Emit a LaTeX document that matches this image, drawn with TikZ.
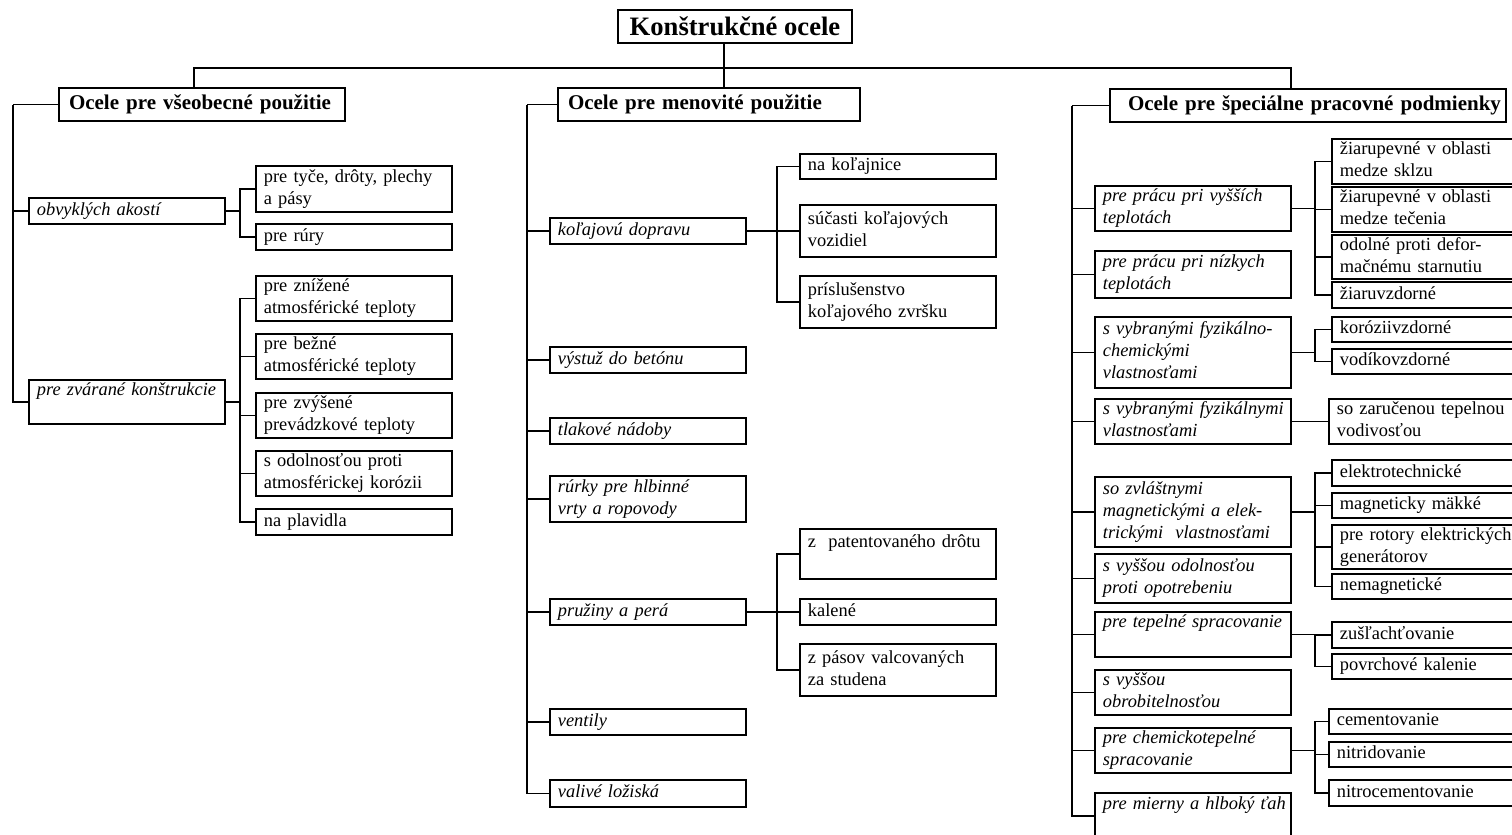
\documentclass[tikz,border=0pt]{standalone}
\usepackage{fontspec}
\setmainfont{Liberation Serif}

\begin{document}
\begin{tikzpicture}[x=0.5pt,y=-0.5pt]

\tikzset{box/.style = {draw, line width=0.9pt, anchor=north west, align=left, inner xsep=4pt, inner ysep=0pt, text width=90pt, execute at begin node={\rightskip=0pt plus 1fil minus 20pt\hyphenpenalty=10000\strut}, execute at end node=\strut, font=\fontsize{9.2}{11}\selectfont}}
\tikzset{lev2/.style = {box, font=\itshape\fontsize{9.2}{11}\selectfont}}
\tikzset{lev3/.style = {box}}
\tikzset{head/.style = {box, line width=1pt, inner xsep=5pt, minimum height=16.5pt, font=\bfseries\fontsize{10.5}{12}\selectfont}}
\tikzset{root/.style = {draw, line width=1pt, minimum width=117pt, minimum height=16.5pt, inner sep=0pt, font=\bfseries\fontsize{13.3}{15}\selectfont}}
\tikzset{link/.style = {line width=0.9pt}}

\useasboundingbox (0,0) rectangle (1512,835);
\clip (0,0) rectangle (1512,835);

% root and the three groups
\node[root] (root) at (735,26.5) {Konštrukčné ocele};
\node[head, text width=133pt] (hdrL) at (58,87) {Ocele pre všeobecné použitie};
\node[head, text width=141pt] (hdrM) at (557,87) {Ocele pre menovité použitie};
\node[head, text width=180pt, inner xsep=9pt] (hdrR) at (1109,88) {Ocele pre špeciálne pracovné podmienky};

% second level (italic)
\foreach \x/\y/\h/\name/\txt in {
  28/197/26/obv/{obvyklých akostí},
  28/379/44/zvar/{pre zvárané konštrukcie\\},
  549/217/26/kol/{koľajovú dopravu},
  549/346/26/vyst/{výstuž do betónu},
  549/417/26/tlak/{tlakové nádoby},
  549/475/46/rurk/{rúrky pre hlbinné\\ vrty a ropovody},
  549/598/26/pruz/{pružiny a perá},
  549/708/26/vent/{ventily},
  549/779/27/lozi/{valivé ložiská},
  1094/185/45/vyss/{pre prácu pri vyšších\\ teplotách},
  1094/250/47/nizk/{pre prácu pri nízkych\\ teplotách},
  1094/316/71/chem/{s vybranými fyzikálno-\\ chemickými\\ vlastnosťami},
  1094/398/45/fyz/{s vybranými fyzikálnymi\\ vlastnosťami},
  1094/476/70/magn/{so zvláštnymi\\ magnetickými a elek-\\ trickými~~vlastnosťami},
  1094/553/49/opot/{s vyššou odolnosťou\\ proti opotrebeniu},
  1094/611/45/tepl/{pre tepelné spracovanie\\},
  1094/669/45/obrob/{s vyššou\\ obrobitelnosťou},
  1094/727/45/chtep/{pre chemickotepelné\\ spracovanie},
  1094/792/46/tah/{pre mierny a hlboký ťah\\}}
\node[lev2, minimum height=\h*0.5pt] (\name) at (\x,\y) {\txt};

% third level
\foreach \x/\y/\h/\name/\txt in {
  255/165/46/tyce/{pre tyče, drôty, plechy\\ a pásy},
  255/223/26/rury/{pre rúry},
  255/275/45/zniz/{pre znížené\\ atmosférické teploty},
  255/333/45/bezn/{pre bežné\\ atmosférické teploty},
  255/392/45/zvys/{pre zvýšené\\ prevádzkové teploty},
  255/450/45/odol/{s odolnosťou proti\\ atmosférickej korózii},
  255/508/26/plav/{na plavidla},
  799/153/25/kolaj/{na koľajnice},
  799/204/52/sucas/{súčasti koľajových\\ vozidiel},
  799/275/52/prisl/{príslušenstvo\\ koľajového zvršku},
  799/528/50/patent/{z~~patentovaného drôtu\\},
  799/598/26/kalen/{kalené},
  799/643/52/pasov/{z pásov valcovaných\\ za studena},
  1331/138/45/sklz/{žiarupevné v oblasti\\ medze sklzu},
  1331/186/45/tecen/{žiarupevné v oblasti\\ medze tečenia},
  1331/234/44/defor/{odolné proti defor-\\ mačnému starnutiu},
  1331/281/26/ziaru/{žiaruvzdorné},
  1331/316/25/koroz/{koróziivzdorné},
  1331/348/25/vodik/{vodíkovzdorné},
  1328/398/45/vodiv/{so zaručenou tepelnou\\ vodivosťou},
  1331/459/26/elek/{elektrotechnické},
  1331/492/25/makk/{magneticky mäkké},
  1331/524/44/rotor/{pre rotory elektrických\\ generátorov},
  1331/573/25/nemag/{nemagnetické},
  1331/621/26/zusl/{zušľachťovanie},
  1331/653/25/povrch/{povrchové kalenie},
  1328/708/25/cement/{cementovanie},
  1328/741/25/nitr/{nitridovanie},
  1328/779/26/nitrc/{nitrocementovanie}}
\node[lev3, minimum height=\h*0.5pt] (\name) at (\x,\y) {\txt};

% bus lines
\coordinate (dropL) at (194,68);
\coordinate (dropR) at (1291,68);
\coordinate (trunk) at (724,68);
\coordinate (busL) at (13,0);
\coordinate (busM) at (527,0);
\coordinate (busR) at (1072,0);
\coordinate (bA) at (240,0);
\coordinate (bB) at (777,0);
\coordinate (bC) at (1315,0);

\draw[link] (dropL |- hdrL.north) -- (dropL) -- (dropR) -- (dropR |- hdrR.north);
\draw[link] (trunk |- root.south) -- (trunk |- hdrM.north);

\foreach \p/\a/\b/\kids in {
  hdrL/west/busL/{obv,zvar},
  hdrM/west/busM/{kol,vyst,tlak,rurk,pruz,vent,lozi},
  hdrR/west/busR/{vyss,nizk,chem,fyz,magn,opot,tepl,obrob,chtep,tah},
  obv/east/bA/{tyce,rury},
  zvar/east/bA/{zniz,bezn,zvys,odol,plav},
  kol/east/bB/{kolaj,sucas,prisl},
  pruz/east/bB/{patent,kalen,pasov},
  vyss/east/bC/{sklz,tecen,defor,ziaru},
  chem/east/bC/{koroz,vodik},
  magn/east/bC/{elek,makk,rotor,nemag},
  tepl/east/bC/{zusl,povrch},
  chtep/east/bC/{cement,nitr,nitrc}}{
  \draw[link] (\p.\a) -- (\p.\a -| \b);
  \foreach \c in \kids
    \draw[link] (\c.west) -- (\c.west -| \b) -- (\p.\a -| \b);
}

\draw[link] (fyz.east) -- (vodiv.west);
\end{tikzpicture}
\end{document}
